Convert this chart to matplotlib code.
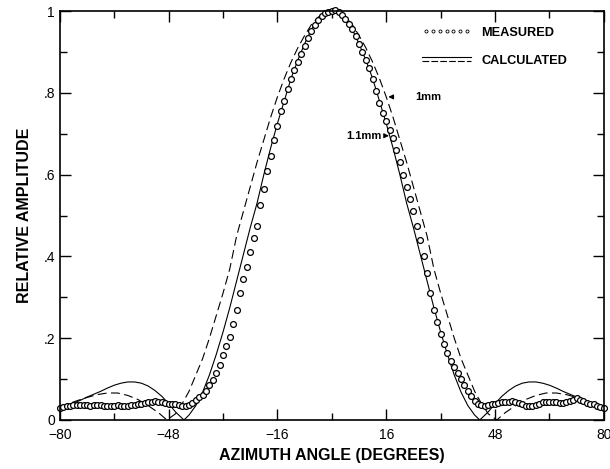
import matplotlib
matplotlib.use("Agg")
import matplotlib.pyplot as plt
from matplotlib.lines import Line2D
from matplotlib.legend_handler import HandlerBase
import numpy as np

plt.rcParams['font.family'] = ['Liberation Sans', 'DejaVu Sans']

# measured pattern, 1 degree steps from -80 to 80
meas_angle = list(range(-80, 81))
meas_amp = [
    0.030, 0.032, 0.034, 0.035, 0.036, 0.036, 0.037, 0.037, 0.036, 0.035,   # -80..-71
    0.036, 0.037, 0.036, 0.035, 0.034, 0.034, 0.035, 0.036, 0.035, 0.034,   # -70..-61
    0.035, 0.036, 0.037, 0.038, 0.040, 0.041, 0.043, 0.045, 0.046, 0.045,   # -60..-51
    0.044, 0.042, 0.040, 0.039, 0.038, 0.037, 0.035, 0.034, 0.036, 0.042,   # -50..-41
    0.048, 0.055, 0.062, 0.072, 0.085, 0.098, 0.115, 0.135, 0.160, 0.180,   # -40..-31
    0.203, 0.235, 0.270, 0.310, 0.345, 0.375, 0.410, 0.445, 0.475, 0.525,   # -30..-21
    0.565, 0.610, 0.645, 0.685, 0.720, 0.755, 0.780, 0.810, 0.835, 0.855,   # -20..-11
    0.875, 0.895, 0.915, 0.935, 0.950, 0.965, 0.978, 0.988, 0.995, 0.998,   # -10..-1
    1.000, 1.003, 0.997, 0.990, 0.980, 0.968, 0.955, 0.940, 0.920, 0.900,   # 0..9
    0.880, 0.860, 0.835, 0.805, 0.775, 0.750, 0.730, 0.710, 0.690, 0.660,   # 10..19
    0.630, 0.600, 0.570, 0.540, 0.510, 0.475, 0.440, 0.400, 0.360, 0.310,   # 20..29
    0.270, 0.240, 0.210, 0.185, 0.165, 0.145, 0.130, 0.115, 0.100, 0.085,   # 30..39
    0.070, 0.058, 0.046, 0.040, 0.036, 0.035, 0.036, 0.038, 0.040, 0.042,   # 40..49
    0.043, 0.044, 0.045, 0.046, 0.045, 0.042, 0.038, 0.035, 0.033, 0.034,   # 50..59
    0.037, 0.040, 0.043, 0.045, 0.045, 0.044, 0.043, 0.042, 0.042, 0.043,   # 60..69
    0.046, 0.050, 0.053, 0.050, 0.046, 0.042, 0.040, 0.038, 0.035, 0.032,   # 70..79
    0.030,                                                                  # 80
]

# calculated pattern, 1.1 mm (solid)
calc11_angle = [-80, -78, -76, -74, -72, -70, -68, -66, -64, -62, -60, -58, -56, -54, -52, -50,
                -48, -46, -43.5, -42, -40, -38, -36, -34, -32, -30, -28, -26, -24, -22, -20,
                -18, -16, -14, -12, -10, -8, -6, -4, -2, 0, 2, 4, 6, 8, 10, 12, 14, 16, 18,
                20, 22, 24, 26, 28, 30, 32, 34, 36, 38, 40, 42, 43.5, 46, 48, 50, 52, 54, 56,
                58, 60, 62, 64, 66, 68, 70, 72, 74, 76, 78, 80]
calc11_amp = [0.028, 0.034, 0.041, 0.048, 0.056, 0.063, 0.070, 0.078, 0.085, 0.090, 0.093, 0.093,
              0.090, 0.083, 0.072, 0.058, 0.040, 0.020, 0.0, 0.012, 0.035, 0.068, 0.110, 0.160,
              0.215, 0.275, 0.340, 0.405, 0.470, 0.530, 0.600, 0.665, 0.725, 0.780, 0.835,
              0.880, 0.920, 0.955, 0.980, 0.995, 1.000, 0.995, 0.980, 0.955, 0.920, 0.880,
              0.835, 0.780, 0.725, 0.665, 0.600, 0.530, 0.470, 0.405, 0.340, 0.275, 0.215,
              0.160, 0.110, 0.068, 0.035, 0.012, 0.0, 0.020, 0.040, 0.058, 0.072, 0.083,
              0.090, 0.093, 0.093, 0.090, 0.085, 0.078, 0.070, 0.063, 0.056, 0.048, 0.041,
              0.034, 0.028]

# calculated pattern, 1 mm (dashed)
calc10_angle = [-80, -78, -75, -72, -69, -66, -63, -60, -57, -54, -51, -48.5, -46, -44, -42, -40,
                -38, -36, -34, -32, -30, -28, -26, -24, -22, -20, -18, -16, -14, -12, -10, -8,
                -6, -4, -2, 0, 2, 4, 6, 8, 10, 12, 14, 16, 18, 20, 22, 24, 26, 28, 30, 32, 34,
                36, 38, 40, 42, 44, 46, 48.5, 51, 54, 57, 60, 63, 66, 69, 72, 75, 78, 80]
calc10_amp = [0.032, 0.038, 0.047, 0.055, 0.062, 0.066, 0.066, 0.060, 0.050, 0.035, 0.018, 0.0,
              0.015, 0.040, 0.070, 0.110, 0.150, 0.200, 0.255, 0.310, 0.370, 0.450, 0.510,
              0.570, 0.630, 0.685, 0.740, 0.790, 0.835, 0.875, 0.910, 0.940, 0.967, 0.985,
              0.997, 1.000, 0.997, 0.985, 0.967, 0.940, 0.910, 0.875, 0.835, 0.790, 0.740,
              0.685, 0.630, 0.570, 0.510, 0.450, 0.370, 0.310, 0.255, 0.200, 0.150, 0.110,
              0.070, 0.040, 0.015, 0.0, 0.018, 0.035, 0.050, 0.060, 0.066, 0.066, 0.062,
              0.055, 0.047, 0.038, 0.032]

x_ticks = [-80, -48, -16, 16, 48, 80]
x_minor = [-64, -32, 0, 32, 64]
y_ticks = [0, 0.2, 0.4, 0.6, 0.8, 1.0]
y_labels = ['0', '.2', '.4', '.6', '.8', '1']


class DoubleLineHandler(HandlerBase):
    def create_artists(self, legend, orig_handle, xdescent, ydescent, width, height, fontsize, trans):
        y0 = height / 2 - ydescent
        top = Line2D([-xdescent, width - xdescent], [y0 + 1.5, y0 + 1.5], color='black', lw=0.8,
                     transform=trans)
        bot = Line2D([-xdescent, width - xdescent], [y0 - 1.5, y0 - 1.5], color='black', lw=0.8,
                     dashes=(6, 2), transform=trans)
        return [top, bot]


fig = plt.figure(figsize=(6.1, 4.69), dpi=100)
ax = fig.add_axes([0.098, 0.1045, 0.892, 0.872])

ax.plot(calc11_angle, calc11_amp, color='black', lw=0.8)
ax.plot(calc10_angle, calc10_amp, color='black', lw=0.8, dashes=(8, 4))
ax.plot(meas_angle, meas_amp, ls='none', marker='o', ms=4.2, mfc='white', mec='black',
        mew=0.9, clip_on=False)

ax.set_xlim(-80, 80)
ax.set_ylim(0, 1)
ax.set_xticks(x_ticks)
ax.set_xticks(x_minor, minor=True)
ax.set_yticks(y_ticks)
ax.set_yticklabels(y_labels)
ax.set_yticks([0.1, 0.3, 0.5, 0.7, 0.9], minor=True)
ax.tick_params(which='both', direction='in', top=True, right=True, width=1, labelsize=10)
ax.tick_params(which='major', length=8)
ax.tick_params(which='minor', length=5)
ax.tick_params(axis='x', pad=6)
for s in ax.spines.values():
    s.set_linewidth(1.2)

ax.set_xlabel('AZIMUTH ANGLE (DEGREES)', fontsize=11.5, fontweight='bold', labelpad=4)
ax.set_ylabel('RELATIVE AMPLITUDE', fontsize=11.5, fontweight='bold', labelpad=8)

meas_handle = Line2D([], [], ls='none', marker='o', ms=2.2, mfc='white', mec='black', mew=0.6)
calc_handle = Line2D([], [])
ax.legend([meas_handle, calc_handle], ['MEASURED', 'CALCULATED'],
          handler_map={calc_handle: DoubleLineHandler()}, numpoints=7,
          loc='upper left', bbox_to_anchor=(0.645, 0.99), frameon=False,
          handlelength=3.8, handletextpad=0.8, labelspacing=1.25,
          prop={'weight': 'bold', 'size': 9.2})

ax.text(24.4, 0.79, '1mm', fontsize=8, fontweight='bold', va='center', ha='left')
ax.annotate('', xy=(15.8, 0.79), xytext=(19.0, 0.79),
            arrowprops=dict(arrowstyle='-|>', lw=0.8, color='black', mutation_scale=7))
ax.text(14.6, 0.695, '1.1mm', fontsize=8, fontweight='bold', va='center', ha='right')
ax.annotate('', xy=(17.6, 0.695), xytext=(15.0, 0.695),
            arrowprops=dict(arrowstyle='-|>', lw=0.8, color='black', mutation_scale=7))

fig.savefig('out.png', dpi=100)
